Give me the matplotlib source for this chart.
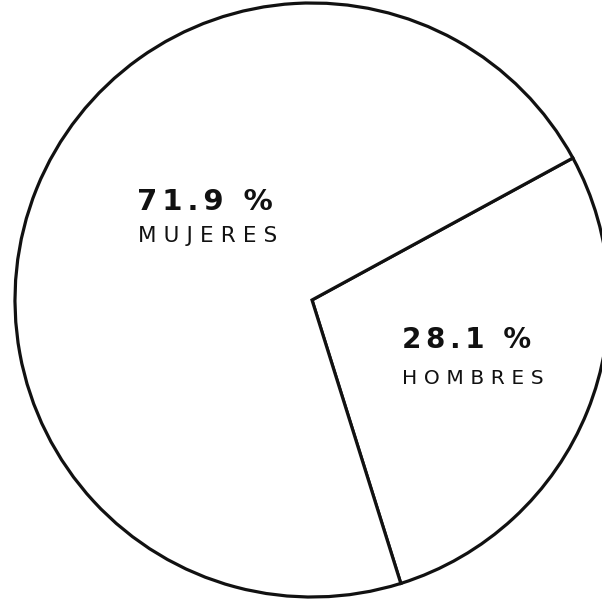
import matplotlib
matplotlib.use("Agg")
import matplotlib.pyplot as plt

labels = ["HOMBRES", "MUJERES"]
values = [28.1, 71.9]
pct_text = ["28.1 %", "71.9 %"]

def spaced(s, sp):
    return sp.join(s)

fig = plt.figure(figsize=(6.02, 6.01), dpi=100)
ax = fig.add_axes([0, 0, 1, 1])
cx, cy, r = 312, 300, 297
ax.axis("off")

ax.pie(values, startangle=-72.6, counterclock=True, radius=1.0,
       colors=["white", "white"],
       wedgeprops=dict(edgecolor="#111111", linewidth=2.3))
ax.set_aspect("equal")
ax.set_xlim(-cx / r, (602 - cx) / r)
ax.set_ylim((cy - 601) / r, cy / r)

def px(x, y):
    return (x - cx) / r, (cy - y) / r

num_sp = "\u2006"
lab_sp = "\u2004"
# MUJERES
x, y = px(205, 202)
ax.text(x, y, spaced(pct_text[1], num_sp), ha="center", va="center",
        fontsize=21, fontweight="bold", color="#111111")
x, y = px(208, 236)
ax.text(x, y, spaced(labels[1], lab_sp), ha="center", va="center",
        fontsize=15.5, color="#111111")
# HOMBRES
x, y = px(467, 340)
ax.text(x, y, spaced(pct_text[0], num_sp), ha="center", va="center",
        fontsize=20, fontweight="bold", color="#111111")
x, y = px(473, 378)
ax.text(x, y, spaced(labels[0], lab_sp), ha="center", va="center",
        fontsize=14.5, color="#111111")

fig.savefig("out.png", dpi=100)
